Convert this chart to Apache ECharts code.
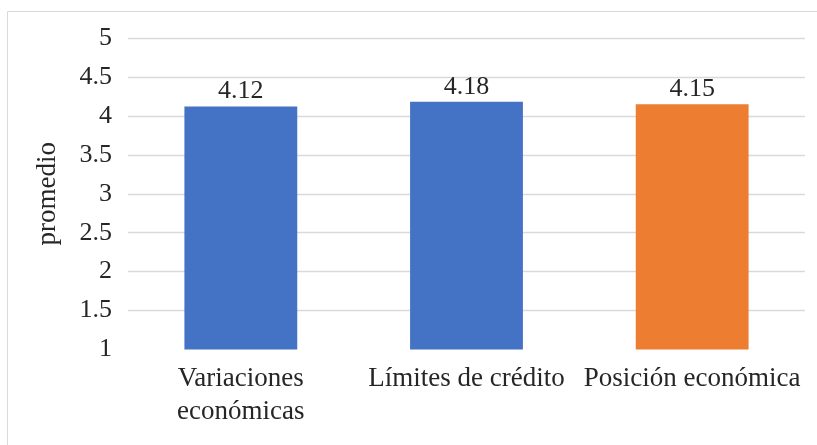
<!DOCTYPE html>
<html>
<head>
<meta charset="utf-8">
<script src="https://cdn.jsdelivr.net/npm/echarts@6/dist/echarts.min.js"></script>
<style>
  html, body { margin: 0; padding: 0; background: #ffffff; }
  #chart { width: 817px; height: 445px; }
</style>
</head>
<body>
<div id="chart"></div>
<script>
// Average score per dimension
const categories = ['Variaciones\necon\u00f3micas', 'L\u00edmites de cr\u00e9dito', 'Posici\u00f3n econ\u00f3mica'];
const values = [4.12, 4.18, 4.15];
const barColors = ['#4472C4', '#4472C4', '#ED7D31'];
const yAxisTitle = 'promedio';

const FONT = '"Liberation Serif", "Times New Roman", serif';
const TEXT = '#262626';

const chart = echarts.init(document.getElementById('chart'), null, { renderer: 'canvas' });

chart.setOption({
  animation: false,
  backgroundColor: '#ffffff',
  graphic: [{
    type: 'rect',
    shape: { x: 7.5, y: 11.5, width: 830, height: 450 },
    style: { fill: 'none', stroke: '#d9d9d9', lineWidth: 1 },
    silent: true
  }],
  grid: { left: 128, right: 12, top: 38, bottom: 95.5, containLabel: false },
  xAxis: {
    type: 'category',
    data: categories,
    axisLine: { show: false },
    axisTick: { show: false },
    axisLabel: {
      interval: 0,
      margin: 13,
      color: TEXT,
      fontFamily: FONT,
      fontSize: 27,
      lineHeight: 33
    }
  },
  yAxis: {
    type: 'value',
    min: 1,
    max: 5,
    interval: 0.5,
    name: yAxisTitle,
    nameLocation: 'middle',
    nameRotate: 90,
    nameGap: 67,
    nameTextStyle: { color: TEXT, fontFamily: FONT, fontSize: 27 },
    axisLine: { show: false },
    axisTick: { show: false },
    axisLabel: { margin: 16, color: TEXT, fontFamily: FONT, fontSize: 26 },
    splitLine: {
      show: true,
      lineStyle: { color: '#d9d9d9', width: 1.3 },
      showMinLine: false
    }
  },
  series: [{
    type: 'bar',
    barWidth: '50%',
    data: values.map((v, i) => ({ value: v, itemStyle: { color: barColors[i] } })),
    label: {
      show: true,
      position: 'top',
      distance: 2,
      color: TEXT,
      fontFamily: FONT,
      fontSize: 26,
      formatter: p => p.value.toFixed(2)
    }
  }]
});
</script>
</body>
</html>
